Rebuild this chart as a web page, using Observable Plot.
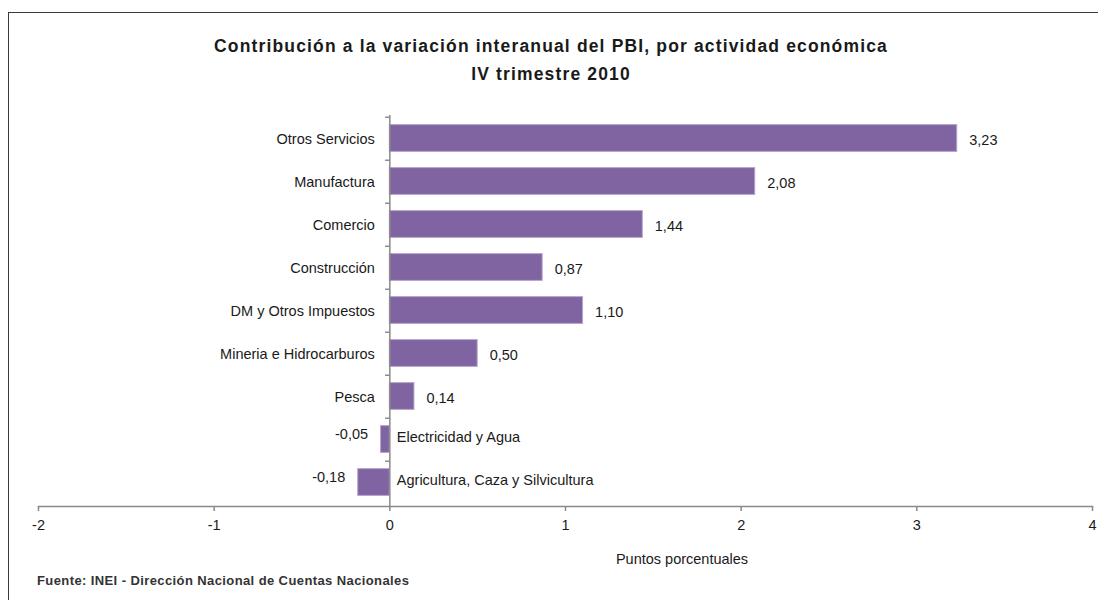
<!DOCTYPE html>
<html>
<head>
<meta charset="utf-8">
<script src="https://cdn.jsdelivr.net/npm/d3@7"></script>
<script src="https://cdn.jsdelivr.net/npm/@observablehq/plot@0.6"></script>
<style>
  html, body { margin: 0; padding: 0; background: #fff; }
  #wrap { position: relative; width: 1098px; height: 600px; overflow: hidden; font-family: "Liberation Sans", Arial, sans-serif; color: #1a1a1a; }
  #frame { position: absolute; left: 8px; top: 12px; width: 1200px; height: 700px; border: 1.5px solid #3a3a3a; box-sizing: border-box; }
  #chart { position: absolute; left: 0; top: 0; }
  .title { position: absolute; left: 0; width: 1102px; text-align: center; font-weight: bold; font-size: 17.5px; letter-spacing: 1.15px; }
  #axlabel { position: absolute; left: 582px; width: 200px; text-align: center; top: 551px; font-size: 14.5px; }
  #source { position: absolute; left: 37px; top: 573px; font-size: 13px; font-weight: bold; color: #333; letter-spacing: 0.4px; }
</style>
</head>
<body>
<div id="wrap">
  <div id="frame"></div>
  <div id="chart"></div>
  <div class="title" style="top:36px">Contribución a la variación interanual del PBI, por actividad económica</div>
  <div class="title" style="top:64px">IV trimestre 2010</div>
  <div id="axlabel">Puntos porcentuales</div>
  <div id="source">Fuente: INEI - Dirección Nacional de Cuentas Nacionales</div>
</div>
<script>
const categories = ["Otros Servicios", "Manufactura", "Comercio", "Construcción", "DM y Otros Impuestos", "Mineria e Hidrocarburos", "Pesca", "Electricidad y Agua", "Agricultura, Caza y Silvicultura"];
const values = [3.23, 2.08, 1.44, 0.87, 1.10, 0.50, 0.14, -0.05, -0.18];
const xTicks = [-2, -1, 0, 1, 2, 3, 4];

const data = categories.map((c, i) => ({cat: c, value: values[i]}));
const pos = data.filter(d => d.value >= 0);
const neg = data.filter(d => d.value < 0);
const fmt = v => v.toFixed(2).replace(".", ",");

const H = 600, MT = 115, MB = 94;
const step = (H - MT - MB) / categories.length;
const font = '"Liberation Sans", Arial, sans-serif';
const gray = "#8a8a8a";
const fs = 14.5;

const chart = Plot.plot({
  width: 1098,
  height: H,
  marginLeft: 38,
  marginRight: 6,
  marginTop: MT,
  marginBottom: MB,
  style: {fontFamily: font, fontSize: fs + "px", color: "#1a1a1a", background: "transparent"},
  x: {domain: [-2, 4]},
  y: {domain: categories, padding: 0, axis: null},
  marks: [
    Plot.barX(data, {x: "value", y: "cat", fill: "#8064A2", stroke: "#b5a4cc", strokeWidth: 1, insetTop: 7.6, insetBottom: 8.6}),
    Plot.ruleX([0], {stroke: gray, strokeWidth: 1.5}),
    Plot.ruleY(categories, {y: d => d, x1: -0.024, x2: 0, dy: -step / 2, stroke: gray, strokeWidth: 1.5}),
    Plot.frame({anchor: "bottom", stroke: gray, strokeWidth: 1.5}),
    Plot.axisX({ticks: xTicks, tickFormat: d => String(d), tickSize: 5, tickPadding: 8, stroke: gray, strokeWidth: 1.5, label: null, fontSize: fs, fill: "#1a1a1a"}),
    Plot.text(pos, {x: 0, y: "cat", text: "cat", textAnchor: "end", dx: -15, dy: 0, fontSize: fs, fill: "#1a1a1a"}),
    Plot.text(neg, {x: 0, y: "cat", text: "cat", textAnchor: "start", dx: 7, dy: -3, fontSize: fs, fill: "#1a1a1a"}),
    Plot.text(pos, {x: "value", y: "cat", text: d => fmt(d.value), textAnchor: "start", dx: 12, dy: 1, fontSize: fs, fill: "#1a1a1a"}),
    Plot.text(neg, {x: "value", y: "cat", text: d => fmt(d.value), textAnchor: "end", dx: -13, dy: -6, fontSize: fs, fill: "#1a1a1a"})
  ]
});
document.getElementById("chart").appendChild(chart);
</script>
</body>
</html>
